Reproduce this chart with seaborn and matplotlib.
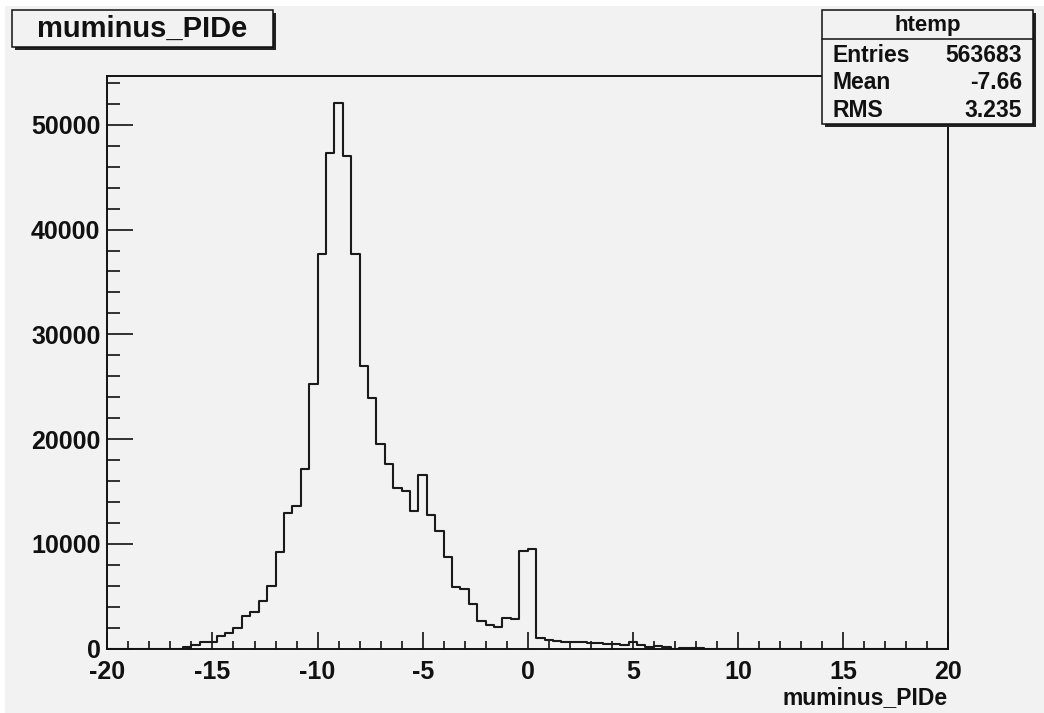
import numpy as np
import pandas as pd
import matplotlib
matplotlib.use("Agg")
import matplotlib.pyplot as plt
from matplotlib.patches import Rectangle
from matplotlib.ticker import MultipleLocator
import seaborn as sns

# ---------------- data ----------------
hist_title = "muminus_PIDe"
x_label = "muminus_PIDe"
x_min, x_max, n_bins = -20.0, 20.0, 100
counts = [0, 0, 0, 0, 0, 0, 0, 0, 0,
          120, 290, 620, 650, 1180, 1500, 1920, 3100, 3520, 4540, 5980,
          9170, 12910, 13650, 17160, 25250, 37620, 47300, 52060, 46980, 37620,
          26970, 23940, 19560, 17580, 15340, 15080, 13160, 16550, 12770, 11190,
          8700, 5910, 5660, 4220, 2620, 2200, 2040, 2940, 2780, 9330,
          9460, 1050, 800, 700, 620, 600, 580, 480, 480, 470,
          460, 320, 640, 320, 110, 240, 110, 0, 70, 70,
          70] + [0] * 29
stats_name = "htemp"
stats_labels = ["Entries", "Mean", "RMS"]
stats_values = ["563683", "-7.66", "3.235"]
x_ticks_major, x_ticks_minor = 5, 1
y_ticks_major, y_ticks_minor = 10000, 2000

# ---------------- style ----------------
sns.set_style("ticks")
plt.rcParams['font.family'] = ['Liberation Sans', 'DejaVu Sans']
plt.rcParams['axes.unicode_minus'] = False
GRAY = "#f2f2f2"
INK = "#111111"
W, H = 1044, 713

width = (x_max - x_min) / n_bins
centers = x_min + width * (np.arange(n_bins) + 0.5)
df = pd.DataFrame({"muminus_PIDe": centers, "count": counts})

fig = plt.figure(figsize=(W / 100, H / 100), dpi=100, facecolor="white")
fig.patches.append(Rectangle((5 / W, 0), 1, 1 - 6 / H, transform=fig.transFigure,
                             facecolor=GRAY, edgecolor="none", zorder=-10))

L, R, T, B = 107.4, 948, 76, 648.5
ax = fig.add_axes([L / W, 1 - B / H, (R - L) / W, (B - T) / H])
ax.set_facecolor(GRAY)

sns.histplot(data=df, x="muminus_PIDe", weights="count", bins=n_bins,
             binrange=(x_min, x_max), element="step", fill=False,
             color="#1a1a1a", linewidth=1.5, ax=ax)

ax.set_xlim(x_min, x_max)
ax.set_ylim(0, 1.05 * max(counts))
ax.xaxis.set_major_locator(MultipleLocator(x_ticks_major))
ax.xaxis.set_minor_locator(MultipleLocator(x_ticks_minor))
ax.yaxis.set_major_locator(MultipleLocator(y_ticks_major))
ax.yaxis.set_minor_locator(MultipleLocator(y_ticks_minor))
ax.tick_params(axis="both", which="both", direction="in", color=INK,
               top=False, right=False)
ax.tick_params(axis="x", which="major", length=12, width=1.2, pad=8)
ax.tick_params(axis="x", which="minor", length=5.5, width=1.2)
ax.tick_params(axis="y", which="major", length=19, width=1.2, pad=5)
ax.tick_params(axis="y", which="minor", length=9.5, width=1.2)
for lab in ax.get_xticklabels() + ax.get_yticklabels():
    lab.set_fontsize(18)
    lab.set_fontweight("bold")
    lab.set_color(INK)
for s in ax.spines.values():
    s.set_visible(True)
    s.set_linewidth(1.4)
    s.set_color(INK)
ax.set_ylabel("")
ax.set_xlabel(x_label, loc="right", fontsize=16.5, fontweight="bold",
              color=INK, labelpad=1.5)


def fig_box(x0, y0, x1, y1, shadow=3):
    # pixel coords (top-left origin) -> figure fraction
    fig.patches.append(Rectangle(((x0 + shadow) / W, 1 - (y1 + shadow) / H),
                                 (x1 - x0) / W, (y1 - y0) / H,
                                 transform=fig.transFigure, facecolor="#222222",
                                 edgecolor="none", zorder=5))
    fig.patches.append(Rectangle((x0 / W, 1 - y1 / H), (x1 - x0) / W, (y1 - y0) / H,
                                 transform=fig.transFigure, facecolor=GRAY,
                                 edgecolor=INK, linewidth=1.1, zorder=6))


# title box
fig_box(12, 10, 273, 46.5)
fig.text((12 + 273) / 2 / W, 1 - 28.5 / H, hist_title, ha="center", va="center",
         fontsize=21, fontweight="bold", color=INK, zorder=10)

# stats box
sx0, sx1, sy0, sy1 = 822, 1033, 10.5, 124
fig_box(sx0, sy0, sx1, sy1)
fig.lines.append(plt.Line2D([sx0 / W, sx1 / W], [1 - 39 / H, 1 - 39 / H],
                            transform=fig.transFigure, color=INK, lw=1.1, zorder=7))
fig.text((sx0 + sx1) / 2 / W, 1 - 25 / H, stats_name, ha="center", va="center",
         fontsize=16, fontweight="bold", color=INK, zorder=10)
for i, (lab, val) in enumerate(zip(stats_labels, stats_values)):
    yy = 1 - (55.5 + 27.3 * i) / H
    fig.text(833 / W, yy, lab, ha="left", va="center", fontsize=16.5,
             fontweight="bold", color=INK, zorder=10)
    fig.text(1022 / W, yy, val, ha="right", va="center", fontsize=16.5,
             fontweight="bold", color=INK, zorder=10)

fig.savefig("out.png", dpi=100, facecolor=fig.get_facecolor())
